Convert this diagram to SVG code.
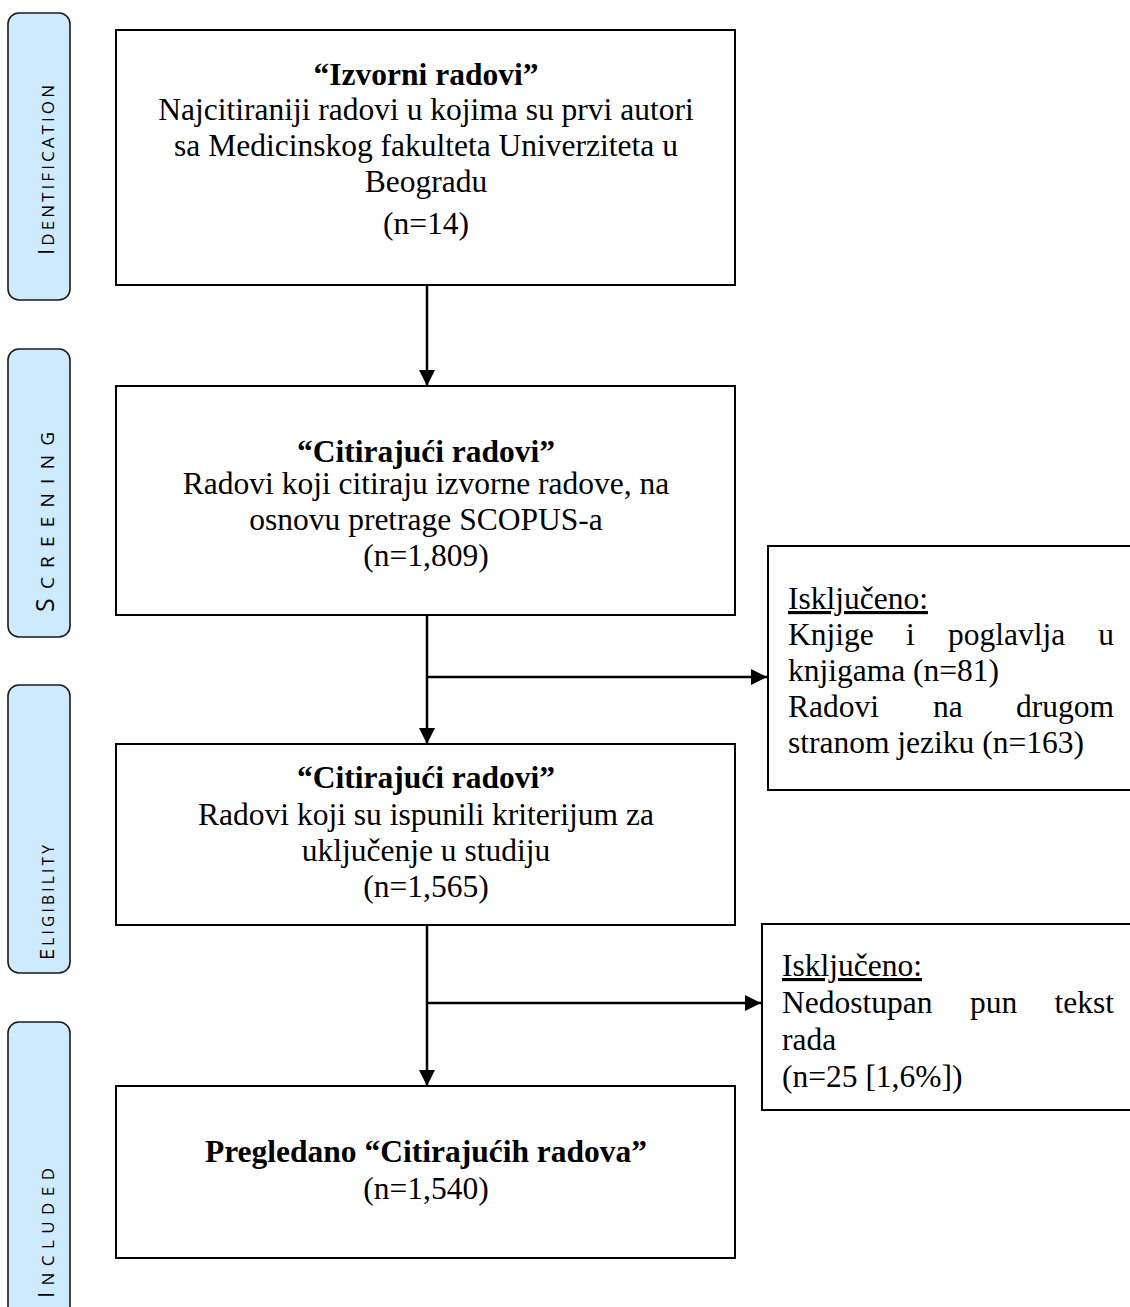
<svg xmlns="http://www.w3.org/2000/svg" width="1130" height="1307" viewBox="0 0 1130 1307">
<style>
.phase{fill:#cdeafe;stroke:#1a1a1a;stroke-width:1.6}
.plab{font-family:"Open Sans","DejaVu Sans",sans-serif;fill:#000}
.box{fill:#fff;stroke:#000;stroke-width:2}
.t{font-family:"Liberation Serif","Times New Roman",serif;font-size:31.5px;fill:#000}
.c{text-anchor:middle}
.b{font-weight:bold}
.e{text-anchor:end}
.conn{fill:none;stroke:#000;stroke-width:2.5}
</style>
<defs>
<marker id="ah" markerUnits="userSpaceOnUse" markerWidth="16" markerHeight="16" viewBox="0 0 16 16" refX="16" refY="8" orient="auto">
<path d="M0,0 L16,8 L0,16 z" fill="#000"/>
</marker>
</defs>
<rect width="1130" height="1307" fill="#fff"/>

<g id="phase-identification">
<rect class="phase" x="8" y="13" width="62" height="287" rx="11"/>
<text class="plab" transform="translate(54,255) rotate(-90)" textLength="170" lengthAdjust="spacing"><tspan font-size="22">I</tspan><tspan font-size="17">DENTIFICATION</tspan></text>
</g>
<g id="phase-screening">
<rect class="phase" x="8" y="349" width="62" height="288" rx="11"/>
<text class="plab" transform="translate(54,612) rotate(-90)" textLength="180" lengthAdjust="spacing"><tspan font-size="25">S</tspan><tspan font-size="19">CREENING</tspan></text>
</g>
<g id="phase-eligibility">
<rect class="phase" x="8" y="685" width="62" height="288" rx="11"/>
<text class="plab" transform="translate(54,960) rotate(-90)" textLength="115" lengthAdjust="spacing"><tspan font-size="20">E</tspan><tspan font-size="15.5">LIGIBILITY</tspan></text>
</g>
<g id="phase-included">
<rect class="phase" x="8" y="1022" width="62" height="300" rx="11"/>
<text class="plab" transform="translate(54,1298) rotate(-90)" textLength="130" lengthAdjust="spacing"><tspan font-size="22">I</tspan><tspan font-size="17">NCLUDED</tspan></text>
</g>

<g id="connectors">
<line class="conn" x1="427" y1="285" x2="427" y2="386" marker-end="url(#ah)"/>
<line class="conn" x1="427" y1="615" x2="427" y2="744" marker-end="url(#ah)"/>
<line class="conn" x1="427" y1="677" x2="767" y2="677" marker-end="url(#ah)"/>
<line class="conn" x1="427" y1="925" x2="427" y2="1086" marker-end="url(#ah)"/>
<line class="conn" x1="427" y1="1003" x2="761" y2="1003" marker-end="url(#ah)"/>
</g>

<g id="node-izvorni">
<rect class="box" x="116" y="30" width="619" height="255"/>
<text class="t c b" x="426" y="85">“Izvorni radovi”</text>
<text class="t c" x="426" y="120">Najcitiraniji radovi u kojima su prvi autori</text>
<text class="t c" x="426" y="156">sa Medicinskog fakulteta Univerziteta u</text>
<text class="t c" x="426" y="192">Beogradu</text>
<text class="t c" x="426" y="234">(n=14)</text>
</g>

<g id="node-citirajuci1">
<rect class="box" x="116" y="386" width="619" height="229"/>
<text class="t c b" x="426" y="462">“Citirajući radovi”</text>
<text class="t c" x="426" y="494">Radovi koji citiraju izvorne radove, na</text>
<text class="t c" x="426" y="530">osnovu pretrage SCOPUS-a</text>
<text class="t c" x="426" y="566">(n=1,809)</text>
</g>

<g id="node-citirajuci2">
<rect class="box" x="116" y="744" width="619" height="181"/>
<text class="t c b" x="426" y="788">“Citirajući radovi”</text>
<text class="t c" x="426" y="825">Radovi koji su ispunili kriterijum za</text>
<text class="t c" x="426" y="861">uključenje u studiju</text>
<text class="t c" x="426" y="897">(n=1,565)</text>
</g>

<g id="node-pregledano">
<rect class="box" x="116" y="1086" width="619" height="172"/>
<text class="t c b" x="426" y="1162">Pregledano “Citirajućih radova”</text>
<text class="t c" x="426" y="1199">(n=1,540)</text>
</g>

<g id="node-iskljuceno1">
<rect class="box" x="768" y="546" width="380" height="244"/>
<text class="t" x="788" y="609" text-decoration="underline">Isključeno:</text>
<text class="t" x="788" y="645">Knjige</text>
<text class="t" x="906" y="645">i</text>
<text class="t" x="948" y="645">poglavlja</text>
<text class="t e" x="1114" y="645">u</text>
<text class="t" x="788" y="681">knjigama (n=81)</text>
<text class="t" x="788" y="717">Radovi</text>
<text class="t" x="933" y="717">na</text>
<text class="t e" x="1114" y="717">drugom</text>
<text class="t" x="788" y="753">stranom jeziku (n=163)</text>
</g>

<g id="node-iskljuceno2">
<rect class="box" x="762" y="924" width="386" height="186"/>
<text class="t" x="782" y="976" text-decoration="underline">Isključeno:</text>
<text class="t" x="782" y="1013">Nedostupan</text>
<text class="t" x="970" y="1013">pun</text>
<text class="t e" x="1114" y="1013">tekst</text>
<text class="t" x="782" y="1050">rada</text>
<text class="t" x="782" y="1087">(n=25 [1,6%])</text>
</g>
</svg>
